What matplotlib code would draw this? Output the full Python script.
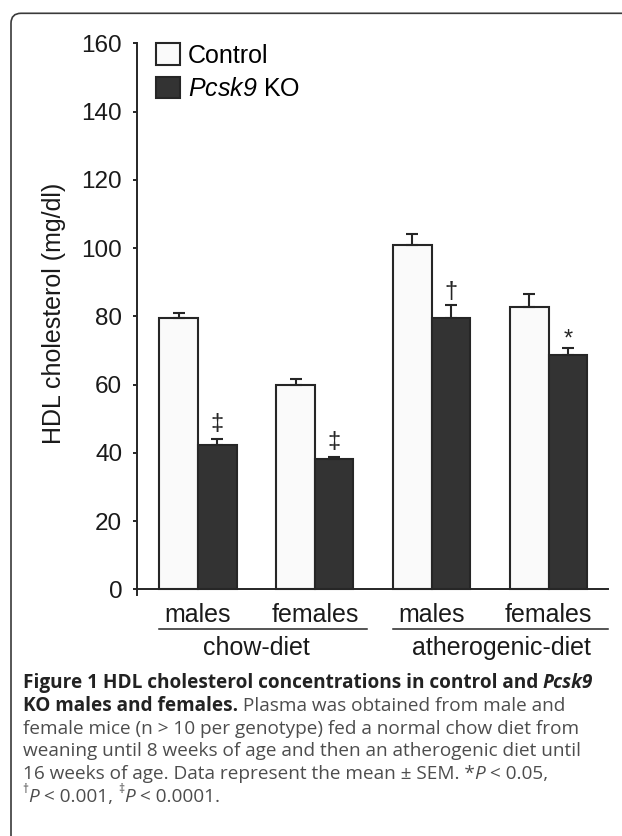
import numpy as np
import matplotlib
matplotlib.use('Agg')
import matplotlib.pyplot as plt
from matplotlib.patches import PathPatch
from matplotlib.path import Path
from matplotlib.transforms import IdentityTransform

# values (mg/dl), mean and upper SEM
groups = ['males', 'females', 'males', 'females']
diets = ['chow-diet', 'atherogenic-diet']
control = [79.4, 59.9, 100.9, 82.7]
control_sem = [1.5, 1.8, 3.2, 3.8]
ko = [42.3, 38.1, 79.6, 68.6]
ko_sem = [1.8, 0.8, 3.7, 2.2]
marks = ['‡', '‡', '†', '*']
yticks = [0, 20, 40, 60, 80, 100, 120, 140, 160]

plt.rcParams['font.family'] = ['Liberation Sans', 'DejaVu Sans']
plt.rcParams['mathtext.fontset'] = 'custom'
plt.rcParams['mathtext.rm'] = 'Liberation Sans'
plt.rcParams['mathtext.it'] = 'Liberation Sans:italic'
# digits are always upright in \mathit, so borrow sf for an italic 9
plt.rcParams['mathtext.sf'] = 'Liberation Sans:italic'

dark = '#262626'
W, H = 622, 836
fig = plt.figure(figsize=(W / 100, H / 100), dpi=100)
ax = fig.add_axes([0.2198, 0.2888, 0.758, 0.6594])

x = np.arange(len(groups))
w = 0.33
ax.bar(x - w / 2, control, w, color='#fafafa', edgecolor=dark, linewidth=1.5,
       label='Control', zorder=2)
ax.bar(x + w / 2, ko, w, color='#333333', edgecolor=dark, linewidth=1.5,
       label='$\\mathit{Pcsk}\\mathsf{9}$ KO', zorder=2)
ax.errorbar(x - w / 2, control, yerr=[np.zeros(4), control_sem], fmt='none',
            ecolor=dark, elinewidth=1.5, capsize=4.2, capthick=1.5, zorder=3)
ax.errorbar(x + w / 2, ko, yerr=[np.zeros(4), ko_sem], fmt='none',
            ecolor=dark, elinewidth=1.5, capsize=4.2, capthick=1.5, zorder=3)

# significance symbols above KO bars
offs = {'‡': 2.5, '†': 2.1, '*': 0.6}
for xi, m, s, mk in zip(x, ko, ko_sem, marks):
    ax.text(xi + w / 2, m + s + offs[mk], mk, ha='center', va='baseline',
            fontsize=17, color=dark)

ax.set_xlim(-0.524, 3.51)
ax.set_ylim(-1.5, 160)
ax.set_yticks(yticks)
ax.set_xticks([])
ax.tick_params(axis='y', length=2.9, width=1.4, pad=7.6, labelsize=17.5,
               color=dark, labelcolor='#1a1a1a')
for side in ['top', 'right']:
    ax.spines[side].set_visible(False)
ax.spines['left'].set_linewidth(1.4)
ax.spines['left'].set_color(dark)
ax.spines['bottom'].set_position(('data', 0))
ax.spines['bottom'].set_linewidth(1.4)
ax.spines['bottom'].set_color(dark)

ax.set_ylabel('HDL cholesterol (mg/dl)', fontsize=18, va='center', color='#1a1a1a')
ax.yaxis.set_label_coords(-0.1754, 0.51)

# group labels under the axis
for xi, g in zip(x, groups):
    ax.text(xi, -9.4, g, ha='center', va='baseline', fontsize=18,
            color='#1a1a1a', clip_on=False)
ax.plot([x[0] - w, x[1] + w + 0.12], [-11.65, -11.65], color=dark, lw=1.1,
        clip_on=False)
ax.plot([x[2] - w, 3.51], [-11.65, -11.65], color=dark, lw=1.1, clip_on=False)
for xc, d in zip([0.5, 2.6], diets):
    ax.text(xc, -19.1, d, ha='center', va='baseline', fontsize=18,
            color='#1a1a1a', clip_on=False)

ax.legend(loc='upper left', bbox_to_anchor=(155.7 / W, 1 - 43.3 / H),
          bbox_transform=fig.transFigure, frameon=False, borderpad=0,
          borderaxespad=0, handlelength=0.97, handleheight=0.97,
          handletextpad=0.32, labelspacing=0.35, fontsize=18)

# panel frame: only the left side, top side and the rounded corner are visible
top = H - 13.3
verts = [(11, -20), (11, top - 10), (11, top), (21, top), (W + 20, top)]
codes = [Path.MOVETO, Path.LINETO, Path.CURVE3, Path.CURVE3, Path.LINETO]
fig.add_artist(PathPatch(Path(verts, codes), transform=IdentityTransform(),
                         fill=False, edgecolor='#3a3a3a', linewidth=1.2))

# caption
caption = [
    [("Figure 1 HDL cholesterol concentrations in control and ", 'b'), ("Pcsk9", 'bi')],
    [("KO males and females.", 'b'), (" Plasma was obtained from male and", 'r')],
    [("female mice (n > 10 per genotype) fed a normal chow diet from", 'r')],
    [("weaning until 8 weeks of age and then an atherogenic diet until", 'r')],
    [("16 weeks of age. Data represent the mean ± SEM. *", 'r'), ("P", 'i'), (" < 0.05,", 'r')],
    [("†", 's'), ("P", 'i'), (" < 0.001, ", 'r'), ("‡", 's'), ("P", 'i'), (" < 0.0001.", 'r')],
]
cap_font = ['Open Sans', 'DejaVu Sans']
renderer = fig.canvas.get_renderer()


def style_kw(st, size):
    kw = dict(family=cap_font, fontsize=size, color='#4d4d4d')
    if 'b' in st:
        kw.update(weight='bold', color='#222222')
    if 'i' in st:
        kw['style'] = 'italic'
    if st == 's':
        kw['fontsize'] = size * 0.62
    return kw


def seg_width(txt, kw):
    t = fig.text(0, 0, txt + '|', transform=IdentityTransform(), **kw)
    w1 = t.get_window_extent(renderer).width
    t.set_text('|')
    w2 = t.get_window_extent(renderer).width
    t.remove()
    return w1 - w2


# fit the first caption line to the width seen in the figure
size = 11
line1 = sum(seg_width(s, style_kw(st, size)) for s, st in caption[0])
size = size * 572 / line1

for i, line in enumerate(caption):
    xpos = 22.7
    base = H - (688.3 + i * 22.7)
    for s, st in line:
        kw = style_kw(st, size)
        y = base + (size * 0.45 * 100 / 72 if st == 's' else 0)
        fig.text(xpos, y, s, transform=IdentityTransform(), va='baseline', **kw)
        xpos += seg_width(s, kw)

fig.savefig('out.png', dpi=100)
